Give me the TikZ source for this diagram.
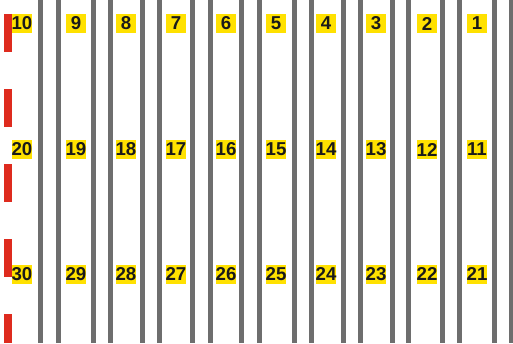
\documentclass[tikz,border=0pt]{standalone}
\usepackage{fontspec}
\setmainfont{Liberation Sans}
\definecolor{bargray}{HTML}{6E6E6E}
\definecolor{labelyellow}{HTML}{FFE100}
\definecolor{dashred}{HTML}{DE2B1E}
\definecolor{labeltext}{HTML}{1A1A1A}
\begin{document}
\begin{tikzpicture}[x=0.75pt,y=-0.75pt,
  bar/.style={fill=bargray},
  reddash/.style={draw=dashred, line width=6pt, dash pattern=on 28.5pt off 27.75pt},
  numlabel/.style={fill=labelyellow, text=labeltext, font=\bfseries\fontsize{14}{14}\selectfont,
    inner sep=0pt, minimum width=15pt, minimum height=14.25pt},
]
\useasboundingbox (0,0) rectangle (513,343);
\fill[white] (0,0) rectangle (513,343);
\foreach \c in {40.8,93.2,142,192.5,241.8,294.5,343.5,392.5,442.5,494.5,
                58.2,110.8,159.5,210,259.5,311.5,360.5,408.5,459.5,511.5}
  \fill[bar] (\c-2.5,0) rectangle (\c+2.5,343);
\coordinate (rtop) at (8,14);
\coordinate (rbot) at (8,343);
\draw[reddash] (rtop) -- (rbot);
\foreach \k/\x in {0/22,1/76,2/126,3/176,4/226,5/276,6/326,7/376,8/427,9/477}{
  \pgfmathtruncatemacro{\a}{10-\k}
  \pgfmathtruncatemacro{\b}{20-\k}
  \pgfmathtruncatemacro{\cc}{30-\k}
  \node[numlabel] (n\a) at (\x,23.5) {\a};
  \node[numlabel] (n\b) at (\x,149.5) {\b};
  \node[numlabel] (n\cc) at (\x,274) {\cc};
}
\end{tikzpicture}
\end{document}
